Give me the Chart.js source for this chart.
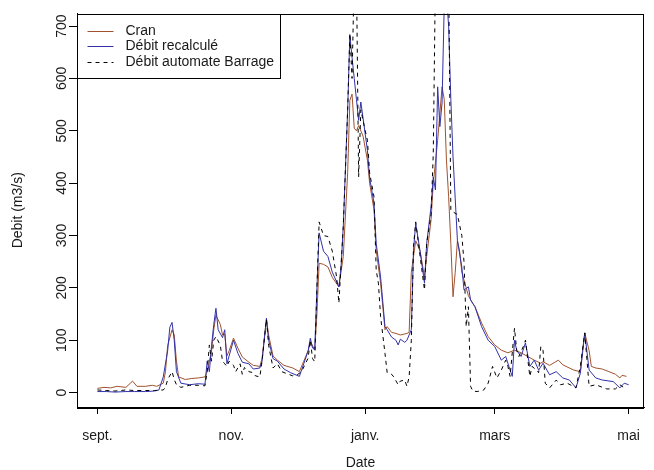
<!DOCTYPE html>
<html>
<head>
<meta charset="utf-8">
<script src="https://cdn.jsdelivr.net/npm/chart.js@4.4.0/dist/chart.umd.min.js"></script>
<style>
  html, body { margin: 0; padding: 0; background: #fff; }
  .graph-container { width: 654px; height: 470px; }
</style>
</head>
<body>
<div class="graph-container"><canvas id="debit-chart" width="654" height="470"></canvas></div>
<script>
// days are counted from 1 sept.
let monthTicks = [0, 61, 122, 181, 242];
let monthLabels = ["sept.", "nov.", "janv.", "mars", "mai"];
let debitTicks = [0, 100, 200, 300, 400, 500, 600, 700];

let cranDays = [0,3,6,9,13,16,18,22,25,27,30,31,32,34,35,36,37,40,43,46,49,50,52,53,54,56,57,58,59,60,62,64,66,69,71,74,75,77,78,80,82,85,89,92,94,96,97,99,100,101,103,105,107,110,112,114,115,116,117,118,119,121,123,124,126,127,129,131,132,134,136,138,141,142,143,145,147,149,150,152,153,154,155,157,158,159,160,161,162,163,164,165,166,168,169,171,172,175,178,181,184,187,190,193,196,199,202,203,206,210,212,217,220,221,222,224,225,227,230,233,236,238,239,241];
let cranFlow = [8,10,9,12,10,22,12,12,14,12,18,40,90,120,110,60,30,25,27,28,30,40,80,120,148,130,110,112,70,80,104,85,68,58,52,50,65,140,110,70,62,52,47,40,60,80,97,82,150,247,245,240,220,202,260,420,558,570,505,500,510,490,444,400,349,272,209,120,126,115,113,110,113,115,230,290,270,221,260,330,400,440,482,584,560,444,374,285,183,230,290,270,230,200,185,170,164,133,107,91,81,76,81,76,69,62,56,59,52,62,53,43,40,80,114,80,50,47,45,40,35,28,33,31];

let recalcDays = [0,4,8,13,17,22,26,28,30,32,33,34,35,36,38,42,46,49,50,51,52,53,54,55,57,58,59,60,62,64,66,69,71,74,75,77,78,80,82,85,88,92,94,96,97,98,99,100,101,103,105,107,110,111,112,114,115,116,117,118,119,120,123,124,126,127,129,131,132,134,136,137,138,140,141,143,144,145,147,149,150,152,153,154,155,156,157,158,159,160,161,162,163,164,166,167,169,170,172,175,178,181,184,186,188,189,190,191,193,195,197,199,201,203,206,209,212,215,218,220,222,224,227,230,235,238,240,242];
let recalcFlow = [2,2,1,2,2,2,3,5,30,80,125,134,100,40,18,15,17,16,60,40,90,130,161,120,105,120,55,70,100,75,58,55,45,47,60,142,100,65,60,45,38,31,55,80,104,85,82,200,305,270,260,230,202,240,317,540,682,640,600,560,520,555,463,410,362,285,221,126,120,106,100,91,102,96,100,120,272,323,270,209,285,355,412,387,584,508,553,740,760,700,560,450,370,291,240,196,202,177,164,126,100,88,62,69,43,31,100,81,69,95,50,62,43,56,34,40,28,24,9,37,114,43,28,24,21,9,18,15];

let barrageDays = [0,4,8,13,17,22,26,30,31,32,34,35,36,38,42,46,49,50,51,52,53,54,56,57,58,59,60,62,63,65,66,67,69,71,72,74,75,77,78,80,82,84,87,89,91,93,96,97,98,99,100,101,103,105,107,109,110,112,114,115,116,117,118,119,120,122,123,124,126,127,128,129,131,132,134,135,137,138,140,141,142,143,144,145,147,149,150,152,153,154,160,161,162,164,166,167,168,169,170,171,173,176,178,180,182,184,186,187,188,190,191,192,194,195,197,198,200,201,202,203,204,206,209,211,214,218,220,222,224,227,232,236,238,240];
let barrageFlow = [5,4,3,5,4,4,4,5,10,25,40,25,15,10,14,14,13,40,91,60,100,107,90,60,55,50,60,52,40,55,35,48,40,38,32,30,60,140,90,47,55,40,35,32,34,40,66,100,65,59,200,326,300,298,270,220,171,317,540,686,600,800,800,412,540,500,482,420,374,234,209,145,75,38,35,30,15,22,24,12,30,100,279,326,260,196,285,340,457,800,800,348,345,340,300,250,126,164,12,3,2,5,18,50,28,43,62,50,31,123,81,69,88,100,31,50,43,38,88,81,18,9,24,15,18,9,50,114,12,15,7,7,15,9];

let textFont = "Liberation Sans, Arial, sans-serif";
let textColor = "#1a1a1a";

function toPoints(days, flow) {
  return days.map((d, i) => ({ x: d, y: flow[i] }));
}

// R style extras: full box, rotated y labels, legend box in the top left corner
const rStyle = {
  id: "rStyle",
  afterDraw(chart) {
    let ctx = chart.ctx;
    let area = chart.chartArea;
    ctx.save();
    ctx.strokeStyle = "#000";
    ctx.lineWidth = 1;
    ctx.strokeRect(Math.round(area.left) + 0.5, Math.round(area.top) + 0.5,
      Math.round(area.right - area.left) - 1, Math.round(area.bottom - area.top));

    ctx.fillStyle = textColor;
    ctx.font = "14px " + textFont;
    ctx.textAlign = "center";
    ctx.textBaseline = "middle";
    debitTicks.forEach((v) => {
      let y = chart.scales.y.getPixelForValue(v);
      ctx.save();
      ctx.translate(62, y);
      ctx.rotate(-Math.PI / 2);
      ctx.fillText(String(v), 0, 0);
      ctx.restore();
    });

    let left = Math.round(area.left) + 0.5;
    ctx.fillStyle = "#fff";
    ctx.fillRect(left, Math.round(area.top) + 0.5, 203, 64);
    ctx.strokeRect(left, Math.round(area.top) + 0.5, 203, 64);
    ctx.textAlign = "left";
    chart.data.datasets.forEach((ds, i) => {
      let y = Math.round(area.top + 17 + i * 15.8) + 0.5;
      ctx.strokeStyle = ds.borderColor;
      ctx.setLineDash(ds.borderDash || []);
      ctx.beginPath();
      ctx.moveTo(left + 10, y);
      ctx.lineTo(left + 36, y);
      ctx.stroke();
      ctx.setLineDash([]);
      ctx.fillStyle = textColor;
      ctx.fillText(ds.label, left + 48, y);
    });
    ctx.restore();
  },
};

function graph(target) {
  return new Chart(target, {
    type: "line",
    data: {
      datasets: [
        {
          label: "Cran",
          data: toPoints(cranDays, cranFlow),
          borderColor: "#a0522d",
          borderWidth: 1,
          order: 3,
        },
        {
          label: "Débit recalculé",
          data: toPoints(recalcDays, recalcFlow),
          borderColor: "#3232aa",
          borderWidth: 1,
          order: 2,
        },
        {
          label: "Débit automate Barrage",
          data: toPoints(barrageDays, barrageFlow),
          borderColor: "#000",
          borderWidth: 1,
          borderDash: [4, 4],
          order: 1,
        },
      ],
    },
    options: {
      responsive: false,
      animation: false,
      layout: { padding: { top: 13.5, right: 3, bottom: 0, left: 0 } },
      elements: { point: { radius: 0 }, line: { tension: 0 } },
      plugins: { legend: { display: false }, tooltip: { enabled: false } },
      scales: {
        x: {
          type: "linear",
          min: -9.3,
          max: 249,
          afterBuildTicks: (scale) => {
            scale.ticks = monthTicks.map((v) => ({ value: v }));
          },
          afterFit: (scale) => { scale.height = 63; },
          ticks: {
            callback: (v) => monthLabels[monthTicks.indexOf(v)],
            maxRotation: 0,
            autoSkip: false,
            padding: 14,
            color: textColor,
            font: { family: textFont, size: 14 },
          },
          grid: { drawOnChartArea: false, tickLength: 7, color: "#000" },
          border: { color: "#000" },
          title: {
            display: true,
            text: "Date",
            color: textColor,
            font: { family: textFont, size: 14 },
            padding: { top: 0, bottom: -2 },
          },
        },
        y: {
          min: -27.5,
          max: 724,
          afterBuildTicks: (scale) => {
            scale.ticks = debitTicks.map((v) => ({ value: v }));
          },
          afterFit: (scale) => { scale.width = 77; },
          ticks: { display: false },
          grid: { drawOnChartArea: false, tickLength: 8, color: "#000" },
          border: { color: "#000" },
          title: {
            display: true,
            text: "Debit (m3/s)",
            color: textColor,
            font: { family: textFont, size: 14 },
            padding: { top: 10, bottom: 0 },
          },
        },
      },
    },
    plugins: [rStyle],
  });
}

graph(document.querySelector("#debit-chart"));
</script>
</body>
</html>
